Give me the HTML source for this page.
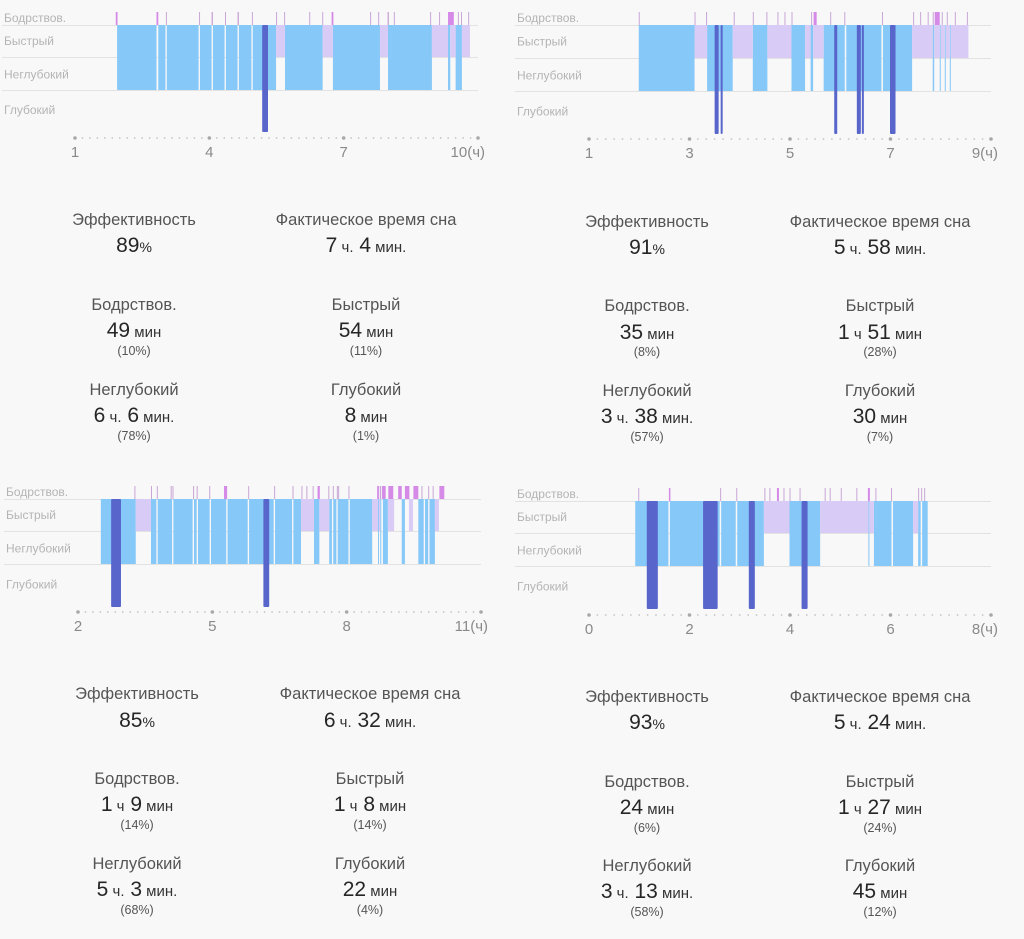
<!DOCTYPE html>
<html><head><meta charset="utf-8">
<style>
html,body{margin:0;padding:0;background:#f8f8f8;}
svg{display:block;font-family:"Liberation Sans","DejaVu Sans",sans-serif;}
</style></head>
<body>
<svg id="root" width="1024" height="939" viewBox="0 0 1024 939" xmlns="http://www.w3.org/2000/svg">
<rect x="0" y="0" width="1024" height="939" fill="#f8f8f8"/>
</svg>
<script>
// ---------- Chart 1 data (hours) ----------
const c1Ticks = [1, 4, 7, 10];
const c1Light = [[1.94,2.82],[2.86,3.02],[3.05,3.76],[3.79,4.05],[4.08,4.34],[4.37,4.63],[4.66,4.94],[4.97,5.49],[5.69,6.53],[6.76,7.81],[7.99,8.97],[9.33,9.38],[9.5,9.64]];
const c1Rem = [[5.49,5.69],[6.53,6.76],[7.81,7.99],[8.97,9.33],[9.38,9.5],[9.64,9.82]];
const c1Deep = [[5.18,5.31]];
const c1Awake = [[1.91,1.95],[2.82,2.86],[3.03,3.04],[3.77,3.78],[4.05,4.08],[4.35,4.36],[4.63,4.66],[4.95,4.96],[5.49,5.5],[5.67,5.68],[6.23,6.24],[6.52,6.53],[6.73,6.77],[7.59,7.6],[7.77,7.78],[7.98,8.01],[8.12,8.13],[8.93,8.94],[9.13,9.14],[9.33,9.46],[9.55,9.56],[9.62,9.63],[9.78,9.79]];
// ---------- Chart 2 data ----------
const c2Ticks = [1, 3, 5, 7, 9];
const c2Light = [[1.99,3.10],[3.35,3.86],[4.26,4.55],[5.03,5.30],[5.41,5.46],[5.67,6.09],[6.12,6.82],[6.85,7.43],[7.84,7.87],[7.98,8.0],[8.08,8.1],[8.18,8.2]];
const c2Rem = [[3.10,3.35],[3.86,4.26],[4.55,5.03],[5.30,5.41],[5.46,5.67],[7.43,7.84],[7.87,7.98],[8.0,8.08],[8.1,8.18],[8.2,8.55]];
const c2Deep = [[3.5,3.58],[3.62,3.66],[5.88,5.94],[6.33,6.41],[6.43,6.47],[6.99,7.1]];
const c2Awake = [[1.99,2.0],[3.10,3.11],[3.33,3.34],[3.88,3.89],[4.26,4.27],[4.53,4.54],[4.75,4.76],[4.89,4.9],[5.03,5.04],[5.42,5.43],[5.47,5.53],[5.80,5.81],[6.08,6.09],[6.83,6.84],[7.45,7.46],[7.59,7.6],[7.74,7.75],[7.84,7.85],[7.88,7.98],[8.02,8.03],[8.12,8.13],[8.28,8.29],[8.52,8.53]];
// ---------- Chart 3 data ----------
const c3Ticks = [2, 5, 8, 11];
const c3Light = [[2.51,3.29],[3.63,3.75],[3.78,4.10],[4.13,4.56],[4.59,4.65],[4.68,4.94],[4.97,5.31],[5.34,5.79],[5.82,6.37],[6.40,6.78],[6.81,6.98],[7.27,7.39],[7.61,7.67],[7.70,7.77],[7.80,8.04],[8.07,8.57],[8.70,8.72],[8.75,8.77],[8.81,8.92],[9.23,9.30],[9.6,9.72],[9.75,9.82],[9.85,9.97]];
const c3Rem = [[3.29,3.63],[6.98,7.27],[7.39,7.61],[8.57,8.70],[8.72,8.75],[8.92,9.06],[9.39,9.48],[9.97,10.06]];
const c3Deep = [[2.74,2.96],[6.14,6.27]];
const c3Awake = [[3.26,3.27],[3.63,3.64],[3.76,3.77],[4.07,4.08],[4.11,4.12],[4.57,4.58],[4.65,4.66],[4.93,4.94],[5.26,5.33],[5.80,5.81],[6.38,6.39],[6.79,6.8],[6.99,7.0],[7.10,7.11],[7.24,7.25],[7.35,7.4],[7.59,7.6],[7.69,7.7],[7.78,7.79],[7.81,7.82],[8.04,8.05],[8.68,8.72],[8.74,8.77],[8.79,8.87],[8.93,9.04],[9.15,9.23],[9.30,9.40],[9.49,9.60],[9.67,9.68],[9.82,9.83],[9.92,9.93],[10.07,10.18]];
// ---------- Chart 4 data ----------
const c4Ticks = [0, 2, 4, 6, 8];
const c4Light = [[0.92,1.58],[1.61,2.60],[2.63,2.92],[2.95,3.48],[3.99,4.60],[5.56,5.58],[5.67,6.02],[6.05,6.45],[6.55,6.6],[6.63,6.74]];
const c4Rem = [[3.48,3.99],[4.60,5.56],[5.58,5.67],[6.45,6.55]];
const c4Deep = [[1.15,1.37],[2.27,2.56],[3.18,3.30],[4.23,4.35]];
const c4Awake = [[0.98,0.99],[1.59,1.62],[2.61,2.62],[2.93,2.94],[3.49,3.5],[3.59,3.6],[3.74,3.78],[3.87,3.88],[3.99,4.0],[4.19,4.2],[4.69,4.7],[4.79,4.8],[5.01,5.02],[5.32,5.33],[5.55,5.59],[5.70,5.71],[6.01,6.02],[6.55,6.56],[6.61,6.62],[6.67,6.68]];
// ---------- Stats ----------
const s1 = {eff:"89", total:[["7","ч."],["4","мин."]], awake:[["49","мин"]], awakeP:"10%", rem:[["54","мин"]], remP:"11%", light:[["6","ч."],["6","мин."]], lightP:"78%", deep:[["8","мин"]], deepP:"1%"};
const s2 = {eff:"91", total:[["5","ч."],["58","мин."]], awake:[["35","мин"]], awakeP:"8%", rem:[["1","ч"],["51","мин"]], remP:"28%", light:[["3","ч."],["38","мин."]], lightP:"57%", deep:[["30","мин"]], deepP:"7%"};
const s3 = {eff:"85", total:[["6","ч."],["32","мин."]], awake:[["1","ч"],["9","мин"]], awakeP:"14%", rem:[["1","ч"],["8","мин"]], remP:"14%", light:[["5","ч."],["3","мин."]], lightP:"68%", deep:[["22","мин"]], deepP:"4%"};
const s4 = {eff:"93", total:[["5","ч."],["24","мин."]], awake:[["24","мин"]], awakeP:"6%", rem:[["1","ч"],["27","мин"]], remP:"24%", light:[["3","ч."],["13","мин."]], lightP:"58%", deep:[["45","мин"]], deepP:"12%"};

const NS = "http://www.w3.org/2000/svg";
const root = document.getElementById('root');
function mk(tag, attrs, parent){
  const e = document.createElementNS(NS, tag);
  for (const k in attrs) e.setAttribute(k, attrs[k]);
  (parent||root).appendChild(e);
  return e;
}

function drawChart(id, geo, ticks, light, rem, deep, awake){
  const g = mk('g', {});
  
  
  const x = h => geo.x0 + (h - geo.h0) * geo.pxh;
  const xEnd = x(ticks[ticks.length-1]);
  // grid lines
  [geo.yA, geo.yM, geo.yB].forEach(function(y){
    const l = mk('line', {x1:geo.lx-2, x2:xEnd, y1:y+0.5, y2:y+0.5, stroke:'#e2e2e2', 'stroke-width':1}, g);
    
    
  });
  // stage labels
  const labs = [['Бодрствов.', geo.yA-3],['Быстрый', (geo.yA+geo.yM)/2+4],['Неглубокий', (geo.yM+geo.yB)/2+5],['Глубокий', (geo.yB+geo.yD)/2+3]];
  labs.forEach(function(p){
    const t = mk('text', {x:geo.lx, y:p[1], 'font-size':12, fill:'#b4b4b4'}, g);
    t.textContent = p[0];
    
    
  });
  // light
  light.forEach(function(s){
    const r = mk('rect', {x:x(s[0]), y:geo.yA, width:Math.max(1, x(s[1])-x(s[0])), height:geo.yB-geo.yA, fill:'#86c8f8'}, g);
    
    
  });
  rem.forEach(function(s){
    const r = mk('rect', {x:x(s[0]), y:geo.yA, width:Math.max(1, x(s[1])-x(s[0])), height:geo.yM-geo.yA, fill:'#d8cbf5'}, g);
    
    
  });
  deep.forEach(function(s){
    const r = mk('rect', {x:x(s[0]), y:geo.yA, width:Math.max(2, x(s[1])-x(s[0])), height:geo.yD-geo.yA, fill:'#5866cc', rx:1}, g);
    
    
  });
  awake.forEach(function(s){
    const w = x(s[1])-x(s[0]);
    const thick = w >= 1.5;
    const r = mk('rect', {x:x(s[0]), y:geo.yA-13, width:Math.max(1, w), height:13, fill: thick ? '#d68ae8' : '#c9a6d6'}, g);
    
    
  });
  // axis dots
  const h1 = ticks[ticks.length-1];
  for (let k = 0; ; k++){
    const h = ticks[0] + k/6;
    if (h > h1 + 1e-6) break;
    const c = mk('circle', {cx:x(h), cy:geo.yAx, r:0.9, fill:'#c4c4c4'}, g);
    
    
  }
  ticks.forEach(function(tv, i){
    const c = mk('circle', {cx:x(tv), cy:geo.yAx, r:1.8, fill:'#a8a8a8'}, g);
    
    
    const last = i === ticks.length-1;
    const t = mk('text', {x: last ? x(tv)+7 : x(tv), y:geo.yAx+19, 'font-size':15, fill:'#8a8a8a', 'text-anchor': last ? 'end' : 'middle'}, g);
    t.textContent = last ? tv + '(ч)' : String(tv);
    
    
  });
}

function valueText(parent, cx, y, parts, name){
  const t = mk('text', {x:cx, y:y, 'text-anchor':'middle', fill:'#262626'}, parent);
  
  
  parts.forEach(function(p, i){
    const a = mk('tspan', {'font-size':21}, t);
    a.textContent = (i>0 ? ' ' : '') + p[0];
    const b = mk('tspan', {'font-size':15, fill:'#333'}, t);
    b.textContent = ' ' + p[1];
  });
  return t;
}
function labelText(parent, cx, y, s, name, size, color){
  const t = mk('text', {x:cx, y:y, 'text-anchor':'middle', 'font-size':size, fill:color}, parent);
  t.textContent = s;
  
  
}
function drawStats(id, L, R, ys, st){
  const g = mk('g', {});
  
  
  labelText(g, L, ys[0]+6, 'Эффективность', 'efficiency-label', 16.5, '#555');
  const e = mk('text', {x:L, y:ys[1]+8, 'text-anchor':'middle', fill:'#262626'}, g);
  
  
  const e1 = mk('tspan', {'font-size':21}, e); e1.textContent = st.eff;
  const e2 = mk('tspan', {'font-size':14}, e); e2.textContent = '%';
  labelText(g, R, ys[0]+6, 'Фактическое время сна', 'actual-sleep-label', 16.5, '#555');
  valueText(g, R, ys[1]+8, st.total, 'actual-sleep-value');
  labelText(g, L, ys[2]+6, 'Бодрствов.', 'awake-label', 16.5, '#555');
  valueText(g, L, ys[3]+8, st.awake, 'awake-value');
  labelText(g, L, ys[4]+5, '(' + st.awakeP + ')', 'awake-percent', 12.5, '#555');
  labelText(g, R, ys[2]+6, 'Быстрый', 'rem-label', 16.5, '#555');
  valueText(g, R, ys[3]+8, st.rem, 'rem-value');
  labelText(g, R, ys[4]+5, '(' + st.remP + ')', 'rem-percent', 12.5, '#555');
  labelText(g, L, ys[5]+6, 'Неглубокий', 'light-label', 16.5, '#555');
  valueText(g, L, ys[6]+8, st.light, 'light-value');
  labelText(g, L, ys[7]+5, '(' + st.lightP + ')', 'light-percent', 12.5, '#555');
  labelText(g, R, ys[5]+6, 'Глубокий', 'deep-label', 16.5, '#555');
  valueText(g, R, ys[6]+8, st.deep, 'deep-value');
  labelText(g, R, ys[7]+5, '(' + st.deepP + ')', 'deep-percent', 12.5, '#555');
}

drawChart('chart-night-1', {x0:75, h0:1, pxh:44.78, yA:25, yM:57, yB:90, yD:132, yAx:138, lx:4}, c1Ticks, c1Light, c1Rem, c1Deep, c1Awake);
drawChart('chart-night-2', {x0:589, h0:1, pxh:50.25, yA:25, yM:58, yB:91, yD:134, yAx:139, lx:517}, c2Ticks, c2Light, c2Rem, c2Deep, c2Awake);
drawChart('chart-night-3', {x0:78, h0:2, pxh:44.78, yA:499, yM:531, yB:564, yD:607, yAx:612, lx:6}, c3Ticks, c3Light, c3Rem, c3Deep, c3Awake);
drawChart('chart-night-4', {x0:589, h0:0, pxh:50.25, yA:501, yM:533, yB:566, yD:609, yAx:615, lx:517}, c4Ticks, c4Light, c4Rem, c4Deep, c4Awake);

drawStats('stats-night-1', 134, 366, [219,244,304,329,350,389,414,435], s1);
drawStats('stats-night-2', 647, 880, [221,246,305,331,351,390,415,436], s2);
drawStats('stats-night-3', 137, 370, [693,719,778,803,824,863,888,909], s3);
drawStats('stats-night-4', 647, 880, [696,721,781,806,827,865,890,911], s4);
</script>
</body></html>
